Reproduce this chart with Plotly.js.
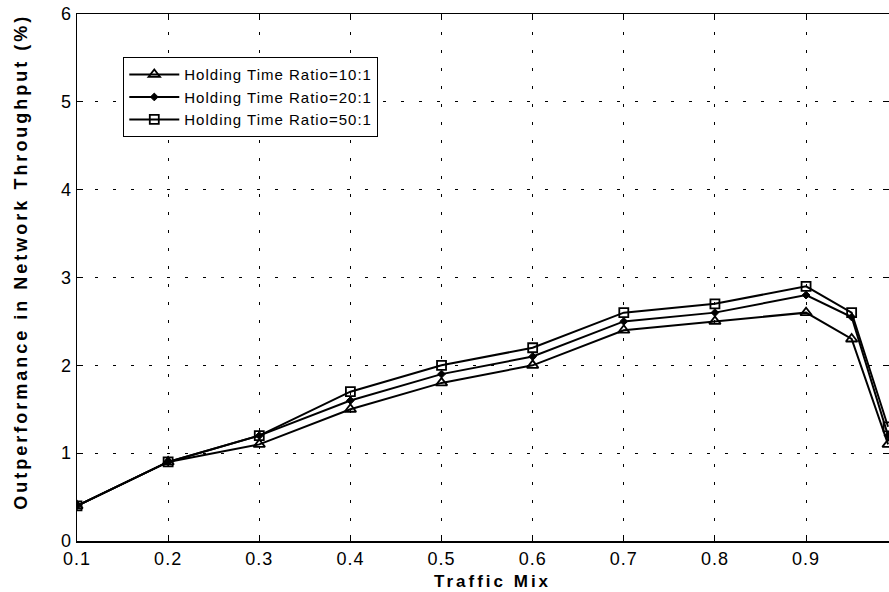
<!DOCTYPE html>
<html>
<head>
<meta charset="utf-8">
<script src="https://cdn.plot.ly/plotly-3.0.1.min.js"></script>
<style>
  html, body { margin: 0; padding: 0; background: #fff; }
  #chart { width: 889px; height: 592px; }
  .annotation-text { letter-spacing: 3px; }
  .legendtext { letter-spacing: 1px; }
  .xtick text, .ytick text { letter-spacing: 1px; }
</style>
</head>
<body>
<div id="chart"></div>
<script>
// Data
const trafficMix = [0.1, 0.2, 0.3, 0.4, 0.5, 0.6, 0.7, 0.8, 0.9, 0.95, 0.99];
const ratio10 = [0.4, 0.9, 1.1, 1.5, 1.8, 2.0, 2.4, 2.5, 2.6, 2.3, 1.1];
const ratio20 = [0.4, 0.9, 1.2, 1.6, 1.9, 2.1, 2.5, 2.6, 2.8, 2.55, 1.2];
const ratio50 = [0.4, 0.9, 1.2, 1.7, 2.0, 2.2, 2.6, 2.7, 2.9, 2.6, 1.3];
const seriesNames = ['Holding Time Ratio=10:1', 'Holding Time Ratio=20:1', 'Holding Time Ratio=50:1'];
const xTitle = 'Traffic Mix';
const yTitle = 'Outperformance in Network Throughput (%)';

const font = 'Liberation Sans, Arial, sans-serif';

const traces = [
  { x: trafficMix, y: ratio10, name: seriesNames[0], mode: 'lines+markers',
    line: { color: '#000', width: 2 },
    marker: { symbol: 'triangle-up-open', size: 10, color: '#000', line: { width: 1.8, color: '#000' } } },
  { x: trafficMix, y: ratio20, name: seriesNames[1], mode: 'lines+markers',
    line: { color: '#000', width: 2 },
    marker: { symbol: 'diamond', size: 6, color: '#000', line: { width: 1, color: '#000' } } },
  { x: trafficMix, y: ratio50, name: seriesNames[2], mode: 'lines+markers',
    line: { color: '#000', width: 2 },
    marker: { symbol: 'square-open', size: 9, color: '#000', line: { width: 1.8, color: '#000' } } }
];

const layout = {
  width: 889, height: 592,
  margin: { l: 77, r: 0, t: 14, b: 51 },
  paper_bgcolor: '#fff', plot_bgcolor: '#fff',
  font: { family: font, color: '#000', size: 18 },
  showlegend: true,
  legend: {
    x: 0.057, y: 0.918, xanchor: 'left', yanchor: 'top',
    bgcolor: '#fff', bordercolor: '#000', borderwidth: 1,
    font: { family: font, size: 15, color: '#000' },
    itemwidth: 50,
    tracegroupgap: 0
  },
  xaxis: {
    range: [0.1, 0.991], tick0: 0.1, dtick: 0.1, tickformat: '.1f',
    showline: true, linecolor: '#000', linewidth: 1.5, mirror: 'ticks',
    ticks: 'inside', ticklen: 6, tickcolor: '#000',
    showgrid: true, gridcolor: '#000', griddash: '3px,15px', gridwidth: 1,
    zeroline: false,
    tickfont: { family: font, size: 18, color: '#000' },
    ticklabelstandoff: 1
  },
  yaxis: {
    range: [0, 6], dtick: 1,
    showline: true, linecolor: '#000', linewidth: 1.5, mirror: 'ticks',
    ticks: 'inside', ticklen: 6, tickcolor: '#000',
    showgrid: true, gridcolor: '#000', griddash: '3px,15px', gridwidth: 1,
    zeroline: false,
    tickfont: { family: font, size: 18, color: '#000' }
  },
  annotations: [
    { text: xTitle, xref: 'paper', yref: 'paper', x: 0.512, y: -0.077,
      xanchor: 'center', yanchor: 'middle', showarrow: false,
      font: { family: font, size: 17, weight: 'bold', color: '#000' } },
    { text: yTitle, xref: 'paper', yref: 'paper', x: -0.069, y: 0.53,
      xanchor: 'center', yanchor: 'middle', textangle: -90, showarrow: false,
      font: { family: font, size: 18, weight: 'bold', color: '#000' } }
  ]
};

Plotly.newPlot('chart', traces, layout, { displayModeBar: false, staticPlot: true });
</script>
</body>
</html>
